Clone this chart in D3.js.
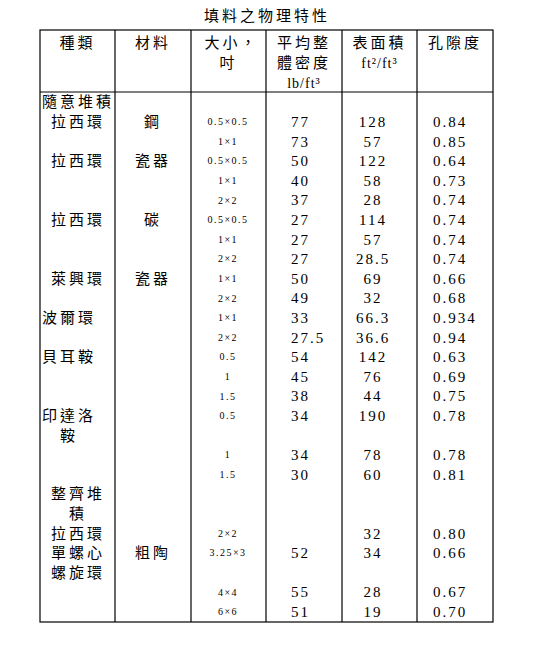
<!DOCTYPE html>
<html><head><meta charset="utf-8">
<script src="https://cdn.jsdelivr.net/npm/d3@7"></script>
<style>body{margin:0;background:#fff}</style>
</head><body><div id="chart"></div>
<script>
const title = "填料之物理特性";
const headers = [["種類"], ["材料"], ["大小，", "吋"], ["平均整", "體密度", "lb/ft³"], ["表面積", "ft²/ft³"], ["孔隙度"]];
// row slot for each data line
const slots   = [1, 2, 3, 4, 5, 6, 7, 8, 9, 10, 11, 12, 13, 14, 15, 16, 18, 19, 22, 23, 25, 26];
const sizes   = ["0.5×0.5","1×1","0.5×0.5","1×1","2×2","0.5×0.5","1×1","2×2","1×1","2×2","1×1","2×2","0.5","1","1.5","0.5","1","1.5","2×2","3.25×3","4×4","6×6"];
const density = ["77","73","50","40","37","27","27","27","50","49","33","27.5","54","45","38","34","34","30","","52","55","51"];
const surface = ["128","57","122","58","28","114","57","28.5","69","32","66.3","36.6","142","76","44","190","78","60","32","34","28","19"];
const porosity = ["0.84","0.85","0.64","0.73","0.74","0.74","0.74","0.74","0.66","0.68","0.934","0.94","0.63","0.69","0.75","0.78","0.78","0.81","0.80","0.66","0.67","0.70"];
const typeLabels = [[0,"隨意堆積",0],[1,"拉西環",1],[3,"拉西環",1],[6,"拉西環",1],[9,"萊興環",1],[11,"波爾環",0],[13,"貝耳鞍",0],[16,"印達洛",0],[17,"鞍",2],[20,"整齊堆",1],[21,"積",3],[22,"拉西環",1],[23,"單螺心",1],[24,"螺旋環",1]];
const materials = [[1,"鋼"],[3,"瓷器"],[6,"碳"],[9,"瓷器"],[23,"粗陶"]];

const W = 536, H = 646;
const cols = [40, 115, 191, 266, 342, 417, 493];
const y = d3.scaleLinear().domain([0, 26]).range([102, 611.6]);
const svg = d3.select("#chart").append("svg").attr("width", W).attr("height", H);
const cjk = "'Noto Sans CJK TC', sans-serif", serif = "'Liberation Serif', 'DejaVu Serif', serif";

svg.append("text").attr("x", 267).attr("y", 21).attr("text-anchor", "middle")
  .style("font-family", cjk).style("font-size", "15px").style("letter-spacing", "3px").text(title);

const tableTop = 30, headBot = 92, tableBot = 622;
const g = svg.append("g").attr("stroke", "#000").attr("stroke-width", 1.2);
g.append("rect").attr("x", cols[0]).attr("y", tableTop).attr("width", cols[6] - cols[0]).attr("height", tableBot - tableTop).attr("fill", "none");
g.append("line").attr("x1", cols[0]).attr("x2", cols[6]).attr("y1", headBot).attr("y2", headBot);
cols.slice(1, 6).forEach(c => g.append("line").attr("x1", c).attr("x2", c).attr("y1", tableTop).attr("y2", tableBot));

headers.forEach((lines, i) => {
  const cx = (cols[i] + cols[i + 1]) / 2;
  lines.forEach((t, j) => {
    const latin = /[a-z]/.test(t);
    svg.append("text").attr("x", cx + (i === 2 && j === 0 ? 3 : 0)).attr("y", 48 + j * 20).attr("text-anchor", "middle")
      .style("font-family", latin ? serif : cjk).style("font-size", latin ? "14px" : "15px")
      .style("letter-spacing", latin ? "1px" : "3px").text(t);
  });
});

const cell = (x, yy, t, font, size, anchor, ls) => svg.append("text").attr("x", x).attr("y", yy).attr("dy", "0.36em")
  .attr("text-anchor", anchor).style("font-family", font).style("font-size", size).style("letter-spacing", ls).text(t);

typeLabels.forEach(([s, t, ind]) => cell(42 + ind * 9, y(s), t, cjk, "15px", "start", "3px"));
materials.forEach(([s, t]) => cell(153, y(s), t, cjk, "15px", "middle", "3px"));
slots.forEach((s, i) => {
  cell(228, y(s), sizes[i], serif, "10px", "middle", "1.5px");
  cell(291, y(s), density[i], serif, "15px", "start", "2px");
  cell(373, y(s), surface[i], serif, "15px", "middle", "2px");
  cell(433, y(s), porosity[i], serif, "15px", "start", "2px");
});
</script></body></html>
